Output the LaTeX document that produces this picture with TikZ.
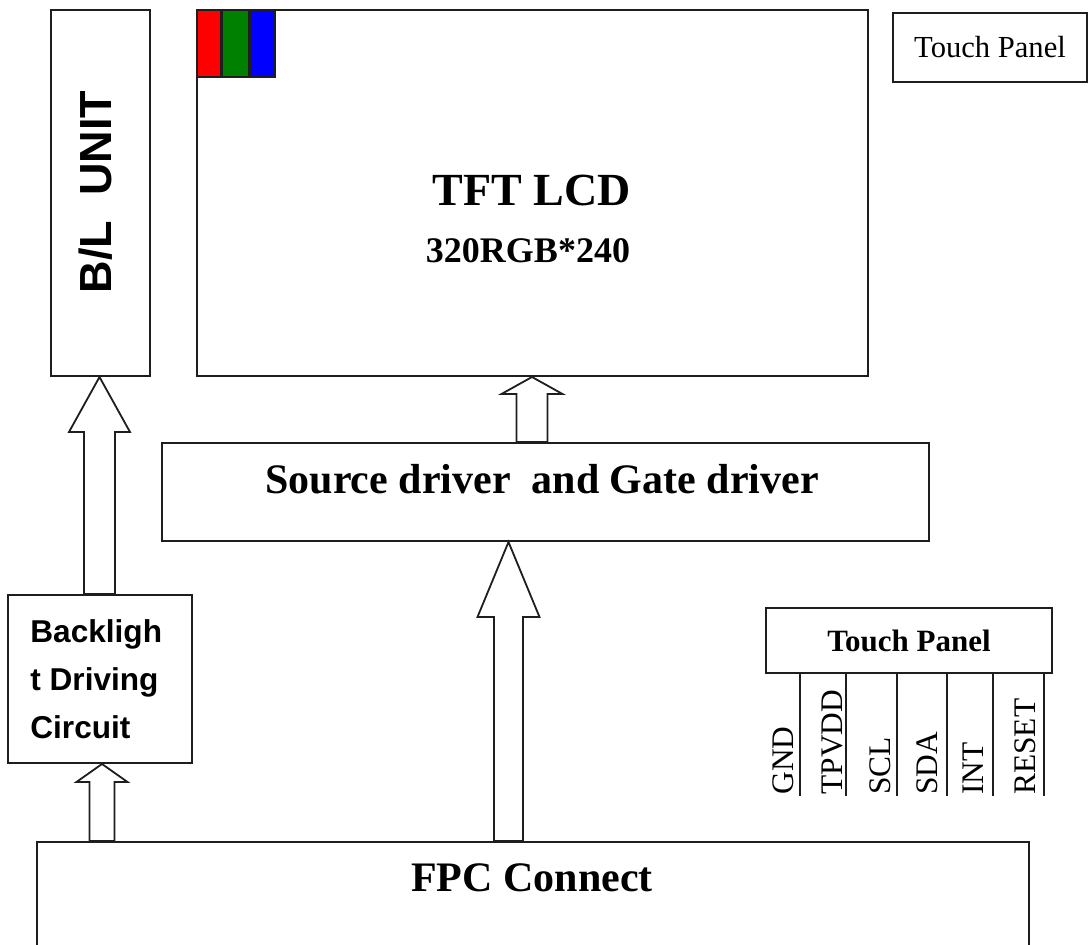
\documentclass[tikz,border=0pt]{standalone}
\usepackage{fontspec}
\setmainfont{Liberation Serif}
\setsansfont{Liberation Sans}
\usetikzlibrary{calc,positioning}
\definecolor{ink}{HTML}{1E1E1E}
\definecolor{cellred}{HTML}{FF0000}
\definecolor{cellgreen}{HTML}{008000}
\definecolor{cellblue}{HTML}{0000FF}
\tikzset{
  every picture/.style={line join=miter},
  box/.style={draw=ink, line width=1pt, fill=white, inner sep=0pt, align=center},
  cell/.style={draw=ink, line width=0.8pt, inner sep=0pt, minimum height=33.5pt, anchor=north west},
  hollow/.style={draw=ink, line width=0.9pt, fill=white},
  pin/.style={draw=ink, line width=1pt},
  lcdtitle/.style={font=\fontsize{23}{27}\selectfont\bfseries},
  lcdres/.style={font=\fontsize{18}{22}\selectfont\bfseries},
  drvtext/.style={font=\fontsize{21}{25}\selectfont\bfseries},
  sanslbl/.style={font=\sffamily\bfseries\fontsize{15.8}{24}\selectfont, align=left, inner sep=0pt},
  pinlbl/.style={font=\fontsize{15.7}{18}\selectfont, rotate=90, anchor=west, inner sep=0pt}
}
% hollow up arrow: tip, base, half stem, half head, head length
\newcommand\hollowup[5]{%
  \draw[hollow] (#1) -- ++(#4,#5) -- ++({#3-#4},0) -- ($(#2)+(#3,0)$)
    -- ($(#2)+(-#3,0)$) -- ($(#1)+(-#3,#5)$) -- ++({#3-#4},0) -- cycle;}

\begin{document}
\begin{tikzpicture}[x=0.5pt, y=-0.5pt]
  \useasboundingbox (0,0) rectangle (1088,945);

  % Panel and backlight
  \node[box, minimum width=49.5pt, minimum height=183pt] (bl) at (100.5,193) {};
  \node[rotate=90, font=\sffamily\bfseries\fontsize{22.5}{26}\selectfont] (bltext) at (96,192) {B/L\ \ UNIT};
  \node[box, minimum width=335.5pt, minimum height=183pt] (tft) at (532.5,193) {};
  \node[cell, fill=cellred, minimum width=12pt] (cr) at (tft.north west) {};
  \node[cell, fill=cellgreen, minimum width=13pt] (cg) at (cr.north east) {};
  \node[cell, fill=cellblue, minimum width=12.5pt] (cb) at (cg.north east) {};
  \node[lcdtitle] (tfttext) at (532,191) {TFT LCD};
  \node[lcdres] (restext) at (528,251) {320RGB*240};
  \node[box, minimum width=97pt, minimum height=34.5pt, font=\fontsize{15.3}{18}\selectfont] (tpa) at (990,47.5) {Touch Panel};

  % Drivers
  \node[box, minimum width=383.5pt, minimum height=49pt] (src) at (545.5,492) {};
  \node[drvtext] (srctext) at (542,479) {Source driver\ \ and Gate driver};
  \node[box, minimum width=92pt, minimum height=84pt] (blc) at (100,679) {};
  \node[sanslbl, anchor=north west] (blctext) at (30,619) {Backligh\\t Driving\\Circuit};
  \node[box, minimum width=496pt, minimum height=79pt] (fpc) at (533,921) {};
  \node[drvtext] (fpctext) at (532,878) {FPC Connect};

  % Touch panel pins
  \node[box, minimum width=143pt, minimum height=32.5pt, font=\fontsize{15.5}{18}\selectfont\bfseries] (tpb) at (909,640.5) {Touch Panel};
  \foreach \x in {800,846,897,947,993,1044}
    \draw[pin] (tpb.south -| \x,0) -- ++(0,122);
  \foreach \x/\t in {783/GND,832/TPVDD,880/SCL,927/SDA,973/INT,1025/RESET}
    \node[pinlbl] (pin\t) at (\x,795) {\t};

  % Arrows
  \coordinate (ax1) at (102,0);
  \coordinate (ax2) at (99.5,0);
  \coordinate (ax3) at (508.5,0);
  \coordinate (ax4) at (532,0);
  \hollowup{ax1 |- blc.south}{ax1 |- fpc.north}{12.5}{25.5}{18}
  \hollowup{ax2 |- bl.south}{ax2 |- blc.north}{15.5}{30.5}{55}
  \hollowup{ax3 |- src.south}{ax3 |- fpc.north}{14.5}{31}{75}
  \hollowup{ax4 |- tft.south}{ax4 |- src.north}{15.5}{30.5}{17}
\end{tikzpicture}
\end{document}
